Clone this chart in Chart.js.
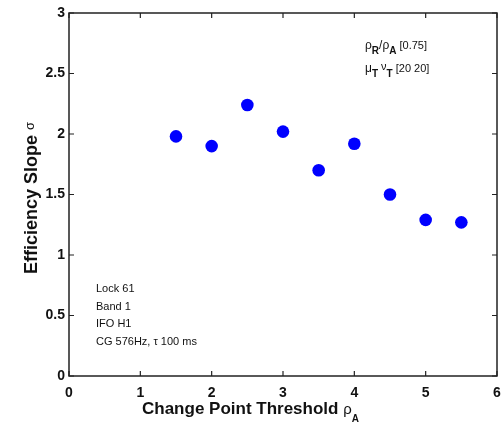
<!DOCTYPE html>
<html>
<head>
<meta charset="utf-8">
<script src="https://cdn.jsdelivr.net/npm/chart.js@4/dist/chart.umd.min.js"></script>
<style>
  html, body { margin: 0; padding: 0; background: #fff; }
  #wrap { width: 501px; height: 424px; }
</style>
</head>
<body>
<div id="wrap"><canvas id="chart"></canvas></div>
<script>
// change point threshold rho_A vs efficiency slope sigma
const thresholds = [1.5, 2, 2.5, 3, 3.5, 4, 4.5, 5, 5.5];
const slopes = [1.98, 1.90, 2.24, 2.02, 1.70, 1.92, 1.50, 1.29, 1.27];

const xTicks = [0, 1, 2, 3, 4, 5, 6];
const yTicks = [0, 0.5, 1, 1.5, 2, 2.5, 3];

const infoLines = ['Lock 61', 'Band 1', 'IFO H1', 'CG 576Hz, \u03c4 100 ms'];

const FONT = '"Liberation Sans", Arial, Helvetica, sans-serif';
const AXIS_COLOR = '#222';

// draws a run of text pieces with their own font and vertical offset
function drawParts(ctx, parts, x, y) {
  let cx = x;
  parts.forEach((p) => {
    ctx.font = p.font;
    ctx.fillText(p.t, cx, y + (p.dy || 0));
    cx += ctx.measureText(p.t).width;
  });
  return cx - x;
}

function partsWidth(ctx, parts) {
  let w = 0;
  parts.forEach((p) => {
    ctx.font = p.font;
    w += ctx.measureText(p.t).width;
  });
  return w;
}

const boxPlugin = {
  id: 'matlabBox',
  afterDraw(chart) {
    const { ctx, chartArea: a, scales } = chart;
    ctx.save();
    ctx.strokeStyle = AXIS_COLOR;
    ctx.lineWidth = 1.5;
    ctx.strokeRect(a.left, a.top, a.right - a.left, a.bottom - a.top);

    // inward ticks on all four sides
    const len = 5;
    ctx.lineWidth = 1.2;
    ctx.beginPath();
    xTicks.forEach((v) => {
      const px = scales.x.getPixelForValue(v);
      ctx.moveTo(px, a.bottom);
      ctx.lineTo(px, a.bottom - len);
      ctx.moveTo(px, a.top);
      ctx.lineTo(px, a.top + len);
    });
    yTicks.forEach((v) => {
      const py = scales.y.getPixelForValue(v);
      ctx.moveTo(a.left, py);
      ctx.lineTo(a.left + len, py);
      ctx.moveTo(a.right, py);
      ctx.lineTo(a.right - len, py);
    });
    ctx.stroke();

    ctx.fillStyle = '#111';
    ctx.textBaseline = 'alphabetic';
    ctx.textAlign = 'left';

    // x axis title
    drawParts(ctx, [
      { t: 'Change Point Threshold ', font: 'bold 17px ' + FONT },
      { t: '\u03c1', font: '15px ' + FONT },
      { t: 'A', font: 'bold 10px ' + FONT, dy: 8 },
    ], 142, 414);

    // y axis title, rotated
    const yParts = [
      { t: 'Efficiency Slope ', font: 'bold 18px ' + FONT },
      { t: '\u03c3', font: '13px ' + FONT, dy: -3 },
    ];
    const yw = partsWidth(ctx, yParts);
    ctx.save();
    ctx.translate(37, 198);
    ctx.rotate(-Math.PI / 2);
    drawParts(ctx, yParts, -yw / 2, 0);
    ctx.restore();

    // parameter notes, upper right
    drawParts(ctx, [
      { t: '\u03c1', font: '12px ' + FONT },
      { t: 'R', font: 'bold 10px ' + FONT, dy: 5 },
      { t: '/\u03c1', font: '12px ' + FONT },
      { t: 'A', font: 'bold 10px ' + FONT, dy: 5 },
      { t: ' [0.75]', font: '11px ' + FONT },
    ], 365, 49);
    drawParts(ctx, [
      { t: '\u03bc', font: '12px ' + FONT },
      { t: 'T', font: 'bold 10px ' + FONT, dy: 5 },
      { t: ' \u03bd', font: '11px ' + FONT, dy: -2 },
      { t: 'T', font: 'bold 10px ' + FONT, dy: 5 },
      { t: ' [20 20]', font: '11px ' + FONT },
    ], 365, 72);

    // run info, lower left
    ctx.font = '11px ' + FONT;
    infoLines.forEach((line, i) => {
      ctx.fillText(line, 96, 292 + i * 17.5);
    });
    ctx.restore();
  },
};

const ctx = document.getElementById('chart').getContext('2d');
new Chart(ctx, {
  type: 'scatter',
  data: {
    datasets: [{
      data: thresholds.map((x, i) => ({ x, y: slopes[i] })),
      backgroundColor: '#0000ff',
      borderWidth: 0,
      pointRadius: 6.3,
    }],
  },
  options: {
    responsive: true,
    maintainAspectRatio: false,
    animation: false,
    layout: { autoPadding: false, padding: { top: 13, right: 4, left: 0, bottom: 0 } },
    plugins: {
      legend: { display: false },
      tooltip: { enabled: false },
    },
    scales: {
      x: {
        type: 'linear',
        min: 0,
        max: 6,
        afterBuildTicks: (s) => { s.ticks = xTicks.map((v) => ({ value: v })); },
        afterFit: (s) => { s.height = 48; s.paddingLeft = 0; s.paddingRight = 0; },
        grid: { display: false, drawTicks: false },
        border: { display: false },
        ticks: {
          color: '#111',
          padding: 9,
          maxRotation: 0,
          callback: (v) => String(v),
          font: { family: FONT, size: 14, weight: 'bold' },
        },
      },
      y: {
        type: 'linear',
        min: 0,
        max: 3,
        afterBuildTicks: (s) => { s.ticks = yTicks.map((v) => ({ value: v })); },
        afterFit: (s) => { s.width = 69; s.paddingTop = 0; s.paddingBottom = 0; },
        grid: { display: false, drawTicks: false },
        border: { display: false },
        ticks: {
          color: '#111',
          padding: 4,
          callback: (v) => String(v),
          font: { family: FONT, size: 14, weight: 'bold' },
        },
      },
    },
  },
  plugins: [boxPlugin],
});
</script>
</body>
</html>
